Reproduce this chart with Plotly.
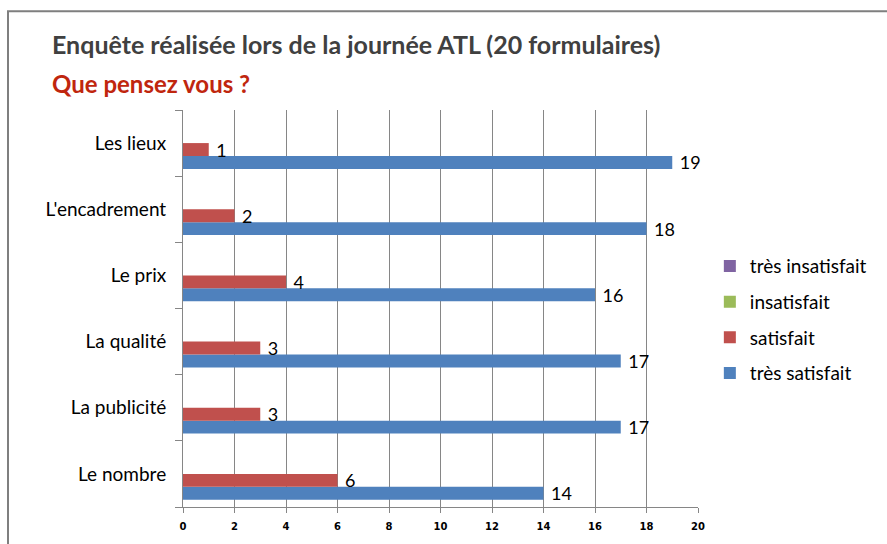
import plotly.graph_objects as go

categories = ["Le nombre", "La publicité", "La qualité", "Le prix", "L'encadrement", "Les lieux"]
tres_satisfait = [14, 17, 17, 16, 18, 19]
satisfait = [6, 3, 3, 4, 2, 1]
insatisfait = [0, 0, 0, 0, 0, 0]
tres_insatisfait = [0, 0, 0, 0, 0, 0]

series = [
    ("très satisfait", tres_satisfait, "#4F81BD", 4),
    ("satisfait", satisfait, "#C0504D", 3),
    ("insatisfait", insatisfait, "#9BBB59", 2),
    ("très insatisfait", tres_insatisfait, "#8064A2", 1),
]

FONT = "Lato, 'Open Sans', sans-serif"

fig = go.Figure()
for name, vals, col, rank in series:
    fig.add_trace(go.Bar(
        y=categories, x=vals, name=name, orientation="h",
        legendgroup=name, legendrank=rank,
        marker=dict(color=col, line=dict(width=0)),
        text=[" " + str(v) if v > 0 else "" for v in vals],
        textposition="outside", cliponaxis=False, constraintext="none",
        textfont=dict(size=18, color="#000000", family=FONT),
    ))

# outer frame
x0 = (8 - 183) / 515
y0 = (516 - 9) / 406
fig.add_shape(type="path", xref="paper", yref="paper",
              path=f"M {x0} -0.2 L {x0} {y0} L 1.5 {y0}",
              line=dict(color="#7f7f7f", width=2))

fig.update_layout(
    width=887, height=544,
    margin=dict(l=183, r=189, t=110, b=28),
    paper_bgcolor="white", plot_bgcolor="white",
    barmode="group", bargap=0.22, bargroupgap=0,
    font=dict(family=FONT, color="#000000"),
    showlegend=True,
    legend=dict(traceorder="grouped", x=1.023, y=0.472, xanchor="left", yanchor="middle",
                font=dict(size=19, color="#000000", family=FONT),
                itemsizing="constant", tracegroupgap=8, itemwidth=30),
    annotations=[
        dict(text="<b>Enquête réalisée lors de la journée ATL (20 formulaires)</b>",
             xref="paper", yref="paper", x=(50 - 183) / 515, y=(516 - 42) / 406,
             xanchor="left", yanchor="middle", showarrow=False,
             font=dict(size=25, color="#404040", family=FONT)),
        dict(text="<b>Que pensez vous ?</b>",
             xref="paper", yref="paper", x=(50 - 183) / 515, y=(516 - 83) / 406,
             xanchor="left", yanchor="middle", showarrow=False,
             font=dict(size=24, color="#C0260E", family=FONT)),
    ],
)
fig.update_xaxes(range=[0, 20], dtick=2, showgrid=True, gridcolor="#868686", gridwidth=1,
                 showline=True, linecolor="#868686", linewidth=1,
                 ticks="outside", ticklen=5, tickcolor="#868686",
                 tickfont=dict(size=10, color="#000000", family="DejaVu Sans", weight="bold"),
                 ticklabelstandoff=5, zeroline=False)
fig.update_yaxes(showline=True, linecolor="#868686", linewidth=1,
                 ticks="outside", ticklen=7, tickcolor="#868686", tickson="boundaries",
                 tickfont=dict(size=19, color="#000000", family=FONT),
                 showgrid=False, ticklabelstandoff=12)

fig.write_html("out.html", config={"displayModeBar": False},
               post_script="document.body.style.margin='0';")
